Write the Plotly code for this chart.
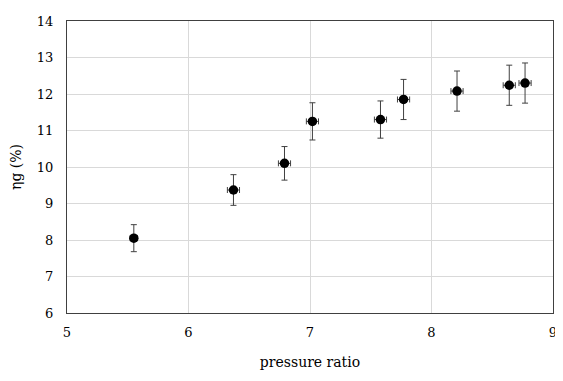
import plotly.graph_objects as go

pressure_ratio = [5.55, 6.37, 6.79, 7.02, 7.58, 7.77, 8.21, 8.64, 8.77]
efficiency = [8.05, 9.37, 10.10, 11.25, 11.30, 11.85, 12.08, 12.24, 12.30]
efficiency_err = [0.37, 0.42, 0.46, 0.51, 0.51, 0.55, 0.55, 0.55, 0.55]
pressure_err = [0.03, 0.05, 0.05, 0.05, 0.05, 0.05, 0.05, 0.05, 0.05]
x_ticks = [5, 6, 7, 8, 9]

font_family = "DejaVu Serif"

fig = go.Figure()
fig.add_trace(go.Scatter(
    x=pressure_ratio, y=efficiency, mode="markers",
    marker=dict(color="black", size=9.5),
    error_y=dict(type="data", array=efficiency_err, color="#404040", thickness=1, width=3),
    error_x=dict(type="data", array=pressure_err, color="#404040", thickness=1, width=3),
    showlegend=False,
))

# page body has an 8px margin, so the figure is sized/offset to land on the reference layout
fig.update_layout(
    width=555, height=365,
    margin=dict(l=59, r=6, t=9, b=60),
    paper_bgcolor="white", plot_bgcolor="white",
    font=dict(family=font_family, size=13, color="black"),
    xaxis=dict(
        range=[5, 9], tickmode="array", tickvals=x_ticks,
        ticktext=[str(v) for v in x_ticks],
        showgrid=True, gridcolor="#d9d9d9", gridwidth=1,
        showline=True, linecolor="#404040", linewidth=1, mirror=True,
        zeroline=False, ticks="", ticklabelstandoff=7,
        ticklabeloverflow="allow",
        title=dict(text="pressure ratio", font=dict(size=14), standoff=18),
    ),
    yaxis=dict(
        range=[6, 14], dtick=1, tick0=6,
        showgrid=True, gridcolor="#d9d9d9", gridwidth=1,
        showline=True, linecolor="#404040", linewidth=1, mirror=True,
        zeroline=False, ticks="", ticklabelstandoff=10,
        title=dict(text="ηg (%)", font=dict(size=14), standoff=12),
    ),
)

fig.write_html("out.html")
